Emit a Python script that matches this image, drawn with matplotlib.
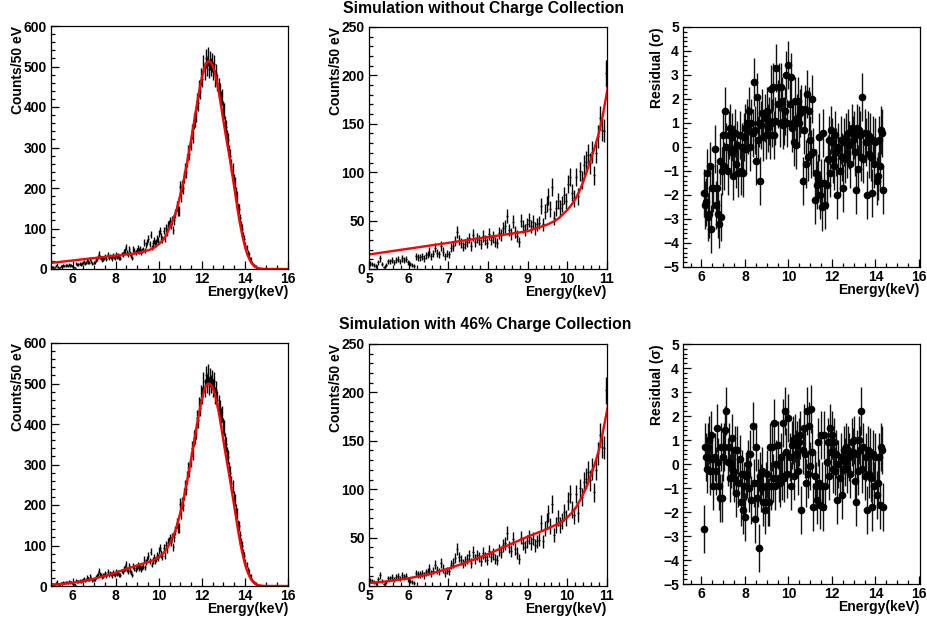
import numpy as np
import matplotlib
matplotlib.use("Agg")
import matplotlib.pyplot as plt
from matplotlib.ticker import MultipleLocator

plt.rcParams['font.family'] = ['Liberation Sans', 'DejaVu Sans']
plt.rcParams['font.weight'] = 'bold'
plt.rcParams['axes.labelweight'] = 'bold'

# ---------------- data ----------------
bin_start = 5.0
bin_width = 0.05
counts = [
    6, 5, 4, 3, 7, 11, 5, 2, 4, 8,
    8, 9, 7, 9, 10, 8, 11, 9, 10, 7,
    5, 4, 3, 13, 12, 12, 13, 11, 14, 15,
    18, 13, 16, 22, 17, 15, 24, 18, 13, 16,
    15, 22, 24, 29, 38, 30, 27, 23, 26, 28,
    32, 24, 35, 28, 32, 30, 26, 34, 30, 27,
    36, 30, 33, 28, 27, 37, 35, 42, 44, 55,
    40, 36, 49, 38, 34, 28, 50, 44, 40, 46,
    51, 44, 49, 42, 46, 48, 65, 46, 59, 67,
    75, 62, 85, 53, 63, 70, 63, 67, 76, 70,
    88, 95, 79, 73, 95, 75, 101, 92, 107, 111,
    118, 109, 121, 97, 120, 137, 156, 144, 143, 202,
    180, 205, 200, 228, 245, 240, 268, 290, 285, 312,
    340, 330, 365, 370, 382, 415, 410, 445, 440, 475,
    470, 505, 490, 520, 500, 525, 495, 515, 498, 510,
    490, 505, 470, 485, 460, 450, 438, 420, 425, 395,
    390, 360, 350, 325, 318, 290, 280, 255, 245, 220,
    212, 188, 180, 150, 148, 125, 108, 100, 82, 75,
    58, 53, 40, 36, 25, 24, 15, 12, 9, 7,
    4, 2,
]

fit_x = [5.0, 5.5, 6.0, 6.5, 7.0, 7.5, 8.0, 8.5, 9.0, 9.5, 9.6, 9.7, 9.8, 9.9,
         10.0, 10.1, 10.2, 10.3, 10.4, 10.5, 10.6, 10.7, 10.8, 10.9,
         11.0, 11.1, 11.2, 11.3, 11.4, 11.5, 11.6, 11.7, 11.8, 11.9,
         12.0, 12.1, 12.2, 12.3, 12.4, 12.5, 12.6, 12.7, 12.8, 12.9,
         13.0, 13.1, 13.2, 13.3, 13.4, 13.5, 13.6, 13.7, 13.8, 13.9,
         14.0, 14.1, 14.2, 14.3, 14.4, 14.5, 14.6, 14.8, 15.0, 16.0]
fit_no_cc = [15, 18, 21, 24, 27, 30, 33, 36, 39, 46, 48, 50, 53, 57,
             61, 66, 72, 80, 90, 102, 114, 127, 141, 160,
             183, 205, 230, 258, 288, 318, 350, 382, 415, 446,
             472, 494, 508, 513, 511, 502, 486, 462, 433, 400,
             367, 334, 303, 272, 238, 204, 168, 134, 104, 78,
             56, 38, 25, 15, 9, 5, 2.5, 0.5, 0, 0]
fit_cc46 = [3, 5, 8, 12, 18, 25, 33, 42, 51, 59, 61, 63, 65, 68,
            71, 75, 80, 87, 95, 104, 115, 127, 141, 160,
            181, 203, 227, 254, 283, 312, 343, 374, 405, 435,
            460, 481, 495, 500, 498, 490, 475, 453, 425, 393,
            360, 327, 296, 265, 232, 199, 165, 132, 102, 77,
            55, 38, 25, 15, 9, 5, 2.5, 0.5, 0, 0]

res_start = 6.1
res_step = 0.05
resid_no_cc = [
    -1.9, -2.4, -2.3, -1.1, -2.9, -2.8, -0.8, -3.4, -1.7, -1.7,
    -0.1, -2.4, -1.7, -2.8, -3.2, -0.6, -2.9, -1.0, 0.5, -0.8,
    1.5, 0.0, -1.0, 0.5, 0.8, -0.2, 0.4, -1.2, -0.1, 0.6,
    -0.7, 0.1, -1.1, 0.5, -1.0, 0.0, -1.1, 0.4, 0.8, -0.1,
    1.0, 0.7, 1.5, 0.0, 1.0, 0.6, 2.7, 0.7, -0.6, 2.1,
    0.3, 1.0, -1.4, 0.9, 1.4, 0.4, 1.2, 0.5, 1.5, 0.8,
    1.1, 0.5, 2.4, 1.0, 2.5, 0.5, 1.1, 3.3, 1.8, 2.5,
    1.0, 2.5, 1.9, 0.9, 1.1, 1.5, 3.0, 1.0, 3.4, 1.8,
    2.9, 0.8, 1.0, 0.2, 1.9, 0.1, 1.2, 1.9, 1.0, 1.4,
    1.6, -1.4, 0.7, 1.6, -0.7, 2.2, -0.4, 1.5, 0.3, -0.3,
    2.0, -0.2, -2.2, -1.1, -1.6, -1.3, 0.4, -2.0, -1.5, -2.5,
    0.6, -1.5, -2.4, -1.6, -0.5, 0.3, -1.1, 0.7, 0.2, -0.5,
    -0.8, 0.5, -0.2, -2.0, 0.0, -1.0, 0.3, -0.4, -1.7, 0.2,
    -0.5, 0.4, -0.3, 0.6, 0.1, -0.7, 0.8, 0.3, 0.5, -0.2,
    -1.8, 0.8, -0.9, 0.7, 0.5, -0.4, 2.1, -0.5, 0.6, 0.2,
    -2.0, 0.5, -0.3, 0.4, -0.4, -1.9, 0.3, -0.7, 0.2, -1.4,
    -1.2, 0.3, -0.8, 0.7, 0.6, -1.8,
]
resid_cc46 = [
    -2.7, 0.7, 0.3, -0.2, 0.7, 1.0, -0.3, 1.2, 0.2, -0.9,
    0.3, -0.3, 1.5, 0.1, -0.9, -1.4, 0.7, -1.4, 0.3, 0.7,
    1.4, 2.2, 0.1, 0.7, -0.6, 0.0, 1.1, -0.3, -0.6, 0.6,
    -1.2, 0.6, -0.8, 0.2, -1.6, -0.4, -1.9, -0.9, -2.2, -0.5,
    -0.4, 0.0, -1.0, 0.4, -1.5, 1.6, -0.8, -2.3, 0.7, -1.4,
    -0.8, -3.5, -0.5, -1.0, -0.3, -1.6, -1.9, -0.9, -0.4, -1.6,
    -1.6, 0.7, -0.9, 0.7, -0.6, 1.7, -0.9, 0.0, 0.8, -0.6,
    -0.8, 0.3, -0.5, 1.7, -0.6, 2.2, 0.5, -0.4, 1.9, 0.3,
    -0.9, 0.8, 1.0, -0.5, 1.1, 0.4, 0.8, -0.3, 0.9, 1.2,
    -1.9, 0.6, 1.5, 0.4, -0.8, 2.2, -0.4, 1.6, -0.1, 2.3,
    0.5, -1.8, -0.5, -0.9, -1.5, 0.9, -0.8, -1.7, 1.2, -0.9,
    -1.8, 1.2, -0.9, 0.1, 0.9, -0.5, 1.5, 0.5, 1.2, -0.2,
    0.9, -0.3, 0.4, -1.5, 0.0, -0.6, 0.3, -1.3, -0.2, 0.6,
    0.1, 0.7, -0.2, 0.6, 0.3, -0.4, 0.9, 0.5, 1.0, -0.7,
    -1.6, 0.4, -0.3, 1.0, 0.6, 2.2, -0.2, 0.7, -0.5, 0.3,
    -1.9, 0.6, -0.4, 0.5, -0.6, -1.8, 0.4, -0.9, 0.3, -1.3,
    -0.8, 0.3, -1.7, 0.7, 0.6, -1.8,
]

titles = ["Simulation without Charge Collection", "Simulation with 46% Charge Collection"]
fits = [fit_no_cc, fit_cc46]
resids = [resid_no_cc, resid_cc46]

# ---------------- figure ----------------
W, H = 928, 618
fig = plt.figure(figsize=(W / 100, H / 100), dpi=100)

def px_axes(l, t, r, b):
    return fig.add_axes([l / W, 1 - b / H, (r - l) / W, (b - t) / H])

energy = bin_start + bin_width / 2 + bin_width * np.arange(len(counts))
cnt = np.array(counts, dtype=float)
err = np.sqrt(cnt)
res_e = res_start + res_step * np.arange(len(resid_no_cc))

FS = 10
TFS = 11.3
XPAD = -1.2
YPAD = -0.8

def style(ax, xmaj, xmin, ymaj, ymin):
    ax.xaxis.set_major_locator(MultipleLocator(xmaj))
    ax.xaxis.set_minor_locator(MultipleLocator(xmin))
    ax.yaxis.set_major_locator(MultipleLocator(ymaj))
    ax.yaxis.set_minor_locator(MultipleLocator(ymin))
    ax.tick_params(which='both', direction='in', top=False, right=False,
                   width=0.9, labelsize=FS)
    ax.tick_params(axis='x', pad=2.5)
    ax.tick_params(axis='y', pad=3)
    ax.tick_params(which='major', length=6)
    ax.tick_params(which='minor', length=3)
    for s in ax.spines.values():
        s.set_linewidth(0.9)
    for lab in ax.get_xticklabels() + ax.get_yticklabels():
        lab.set_fontweight('bold')

rows_top = [26, 343]
for r in range(2):
    t = rows_top[r]
    b = t + 243
    # full spectrum
    ax1 = px_axes(51, t, 288, b)
    ax1.errorbar(energy, cnt, yerr=err, xerr=bin_width / 2, fmt='none',
                 ecolor='black', elinewidth=1.0, capsize=0)
    ax1.plot(fit_x, fits[r], color='red', lw=1.7)
    ax1.set_xlim(5, 16)
    ax1.set_ylim(0, 600)
    style(ax1, 2, 0.5, 100, 20)
    ax1.set_xticks([6, 8, 10, 12, 14, 16])
    ax1.set_ylabel("Counts/50 eV", loc='top', fontsize=FS, labelpad=YPAD)
    ax1.set_xlabel("Energy(keV)", loc='right', fontsize=FS, labelpad=XPAD)

    # zoomed tail
    ax2 = px_axes(369, t + 1, 607, b)
    ax2.errorbar(energy, cnt, yerr=err, xerr=bin_width / 2, fmt='none',
                 ecolor='black', elinewidth=1.0, capsize=0)
    ax2.plot(fit_x, fits[r], color='red', lw=1.7)
    ax2.set_xlim(5, 11)
    ax2.set_ylim(0, 250)
    style(ax2, 1, 0.2, 50, 10)
    ax2.set_ylabel("Counts/50 eV", loc='top', fontsize=FS, labelpad=YPAD)
    ax2.set_xlabel("Energy(keV)", loc='right', fontsize=FS, labelpad=XPAD)

    # residuals
    ax3 = px_axes(683, t + 1, 920, b - 2)
    ax3.errorbar(res_e, resids[r], yerr=1.0, fmt='o', color='black',
                 ms=4.5, ecolor='#111111', elinewidth=1.0, capsize=0)
    ax3.set_xlim(5.15, 16.05)
    ax3.set_ylim(-5, 5)
    style(ax3, 2, 0.5, 1, 0.2)
    ax3.set_xticks([6, 8, 10, 12, 14, 16])
    ax3.set_ylabel("Residual (σ)", loc='top', fontsize=FS, labelpad=YPAD)
    ax3.set_xlabel("Energy(keV)", loc='right', fontsize=FS, labelpad=XPAD)

fig.text(343 / W, 1 - 8 / H, titles[0], ha='left', va='center',
         fontsize=TFS, fontweight='bold')
fig.text(339 / W, 1 - 325 / H, titles[1], ha='left', va='center',
         fontsize=TFS, fontweight='bold')

fig.savefig("out.png", dpi=100)
